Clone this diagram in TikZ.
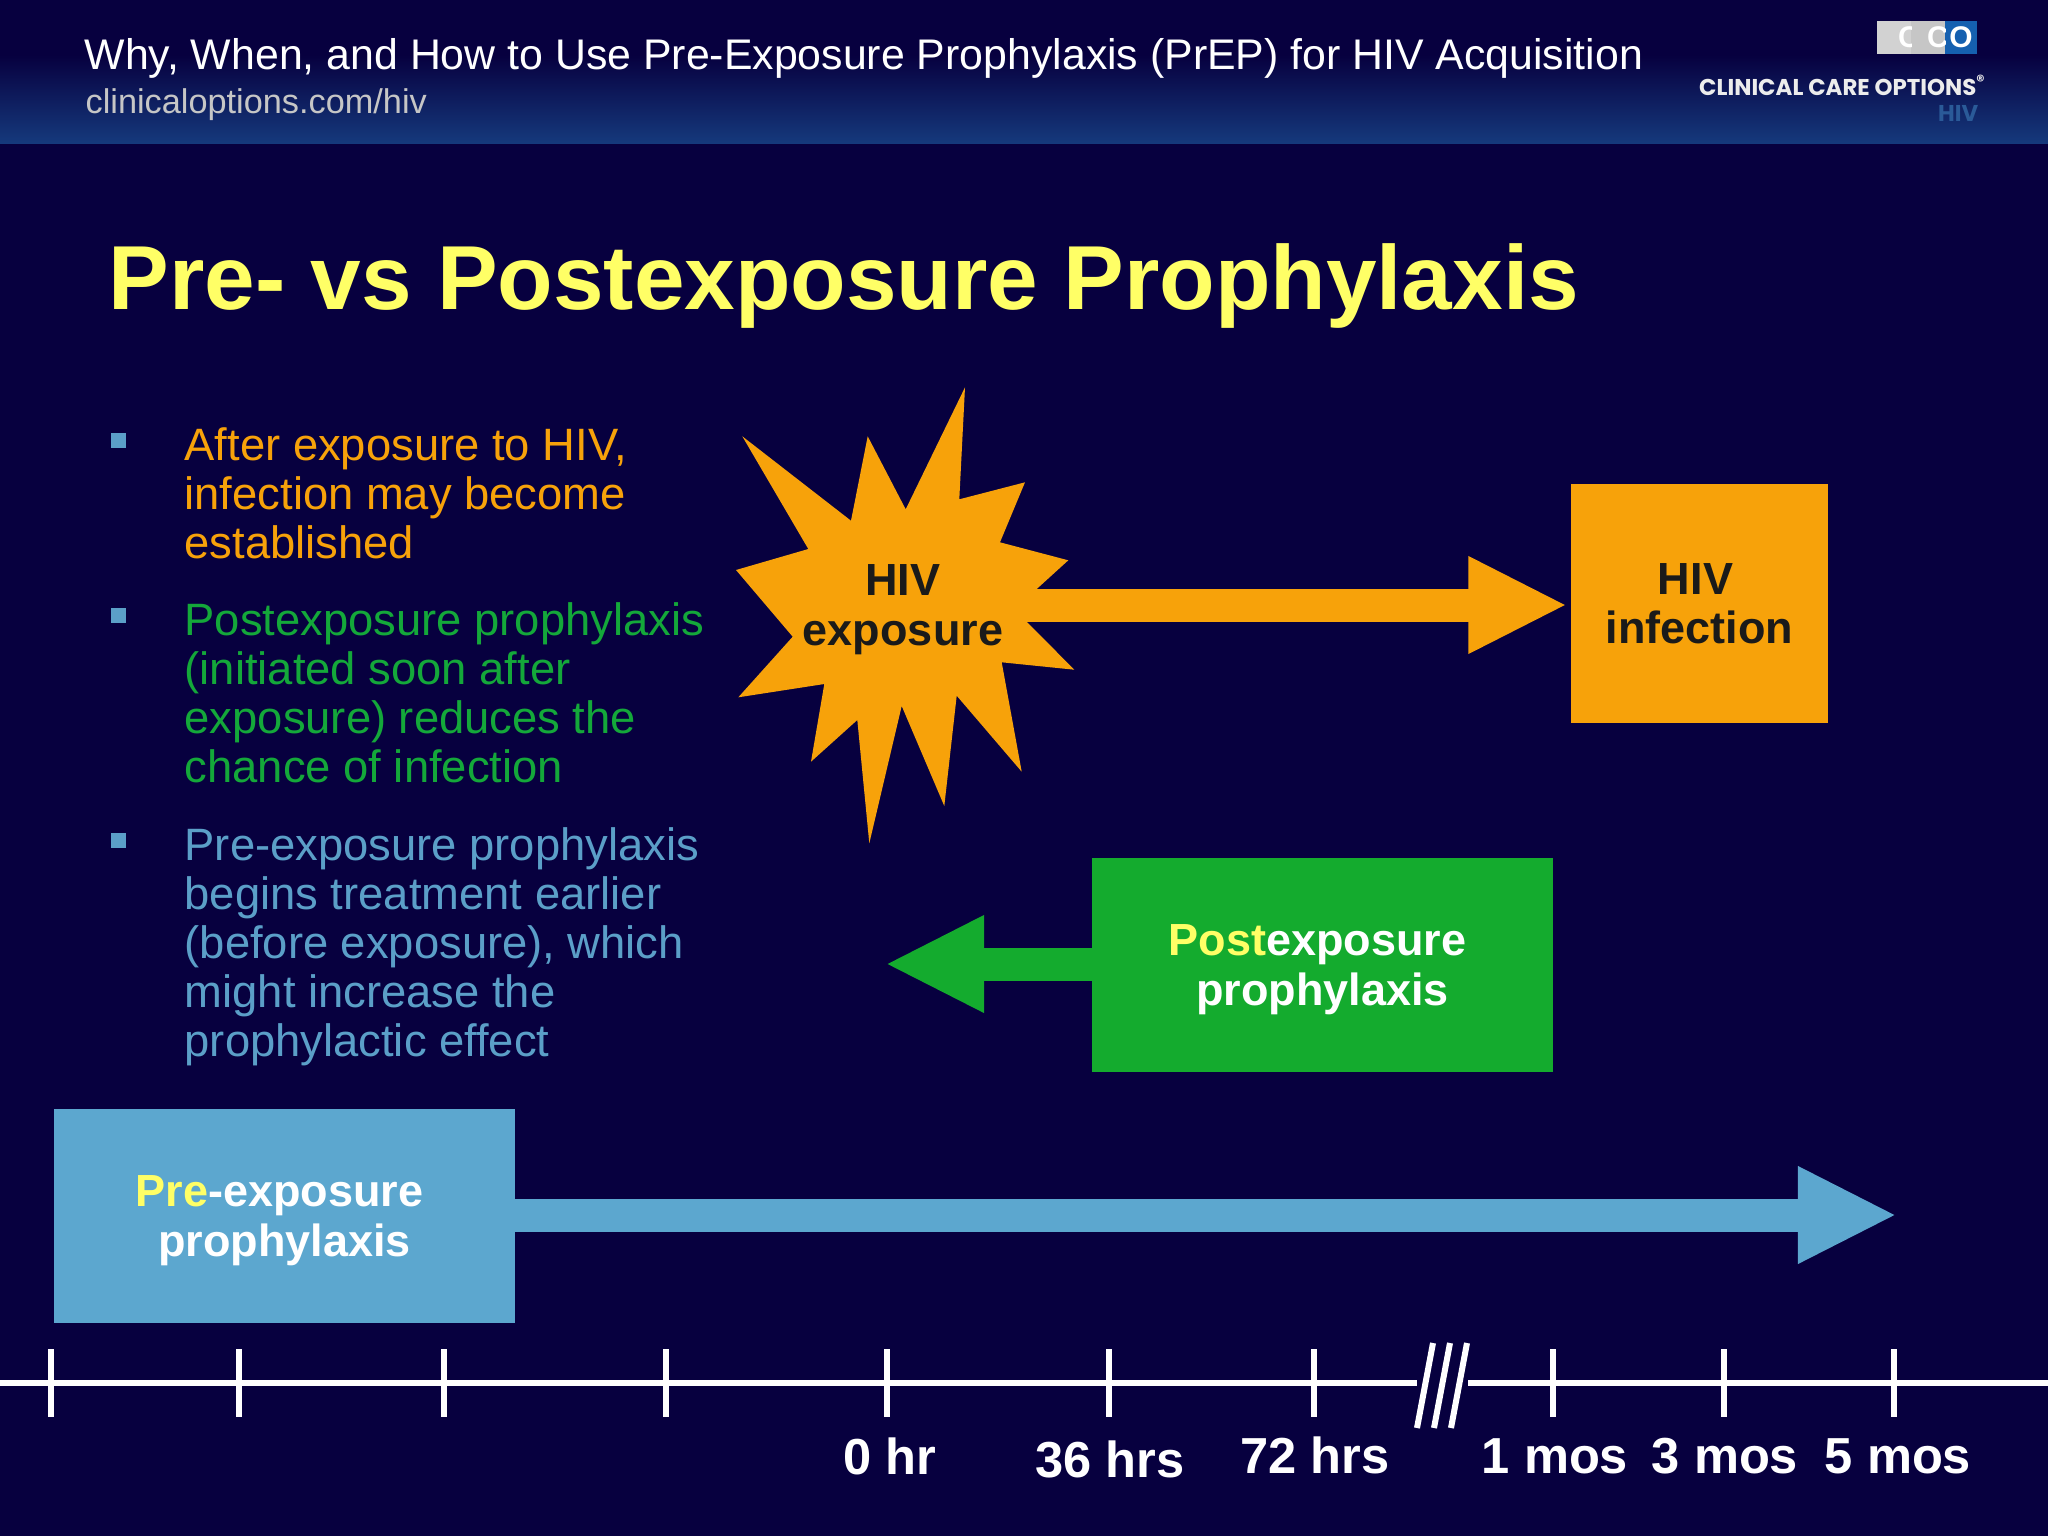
\documentclass[tikz,border=0pt]{standalone}
\usepackage{fontspec}
\setmainfont{Liberation Sans}
\newfontfamily\logofont{Poppins}
\usetikzlibrary{arrows.meta}
\definecolor{navy}{HTML}{07003F}
\definecolor{headblue}{HTML}{15397C}
\definecolor{cardorange}{HTML}{F7A20A}
\definecolor{cardgreen}{HTML}{14AB2E}
\definecolor{cardblue}{HTML}{5CA7CF}
\definecolor{titleyellow}{HTML}{FFFF66}
\definecolor{textgreen}{HTML}{14A83A}
\definecolor{textblue}{HTML}{5B9FC8}
\definecolor{inkdark}{HTML}{1A1A1A}
\definecolor{logoblue}{HTML}{1560B0}
\definecolor{logohivblue}{HTML}{2A5A98}
\begin{document}
\begin{tikzpicture}[x=0.01cm,y=-0.01cm,
	cardtext/.style={font=\fontsize{12.8pt}{14.1pt}\selectfont\bfseries,align=center,inner sep=0pt,text depth=0pt},
	card/.style={cardtext,minimum width=#1,outer sep=0pt},
	bodytext/.style={font=\fontsize{12.9pt}{13.95pt}\selectfont,align=left,anchor=north west,inner sep=0pt},
	blockarrow/.style={draw=#1,line width=0.33cm,-{Triangle[length=0.99cm,width=0.9cm]}},
	axisline/.style={white,line width=0.06cm},
	logotext/.style={white,inner sep=0pt,font=\fontsize{8.5pt}{9pt}\selectfont\bfseries},
	bullet/.style={fill=textblue,inner sep=0pt,minimum size=0.15cm}]
	\path[use as bounding box,fill=navy] (0,0) rectangle (2048,1536);
	\shade[top color=navy,bottom color=headblue] (0,55) rectangle (2048,143);
	\node[anchor=west,inner sep=0pt,white,font=\fontsize{12.18pt}{14pt}\selectfont] (headline) at (84,58) {Why, When, and How to Use Pre-Exposure Prophylaxis (PrEP) for HIV Acquisition};
	\node[anchor=west,inner sep=0pt,text=gray!45!white,font=\fontsize{9.75pt}{11pt}\selectfont] (headurl) at (85,105) {clinicaloptions.com/hiv};
	\fill[gray!35!white] (1877,21) rectangle (1911,54);
	\fill[gray!45!white] (1911,21) rectangle (1945,54);
	\fill[logoblue] (1945,21) rectangle (1977,54);
	\begin{scope}
		\clip (1877,21) rectangle (1911,54);
		\node[logotext] (logoa) at (1909,37.5) {C};
	\end{scope}
	\begin{scope}
		\clip (1911,21) rectangle (1945,54);
		\node[logotext] (logob) at (1938,37.5) {C};
	\end{scope}
	\node[logotext] (logoc) at (1961,37.5) {O};
	\node[anchor=east,inner sep=0pt,text=gray!15!white,font=\logofont\fontsize{6.5pt}{8pt}\selectfont\bfseries] (logoname) at (1987,85) {CLINICAL CARE OPTIONS\textsuperscript{®}};
	\node[anchor=east,inner sep=0pt,text=logohivblue,font=\logofont\fontsize{6.5pt}{8pt}\selectfont\bfseries] (logohiv) at (1979,113) {HIV};
	\node[anchor=west,inner sep=0pt,titleyellow,font=\fontsize{25.85pt}{28pt}\selectfont\bfseries] (title) at (108,286) {Pre- vs Postexposure Prophylaxis};
	\foreach \y in {432,607,832}{
		\node[bullet,anchor=north west] at (110,\y) {};
	}
	\node[bodytext,cardorange] (pointa) at (184,427) {After exposure to HIV,\\infection may become\\established};
	\node[bodytext,textgreen] (pointb) at (184,602) {Postexposure prophylaxis\\(initiated soon after\\exposure) reduces the\\chance of infection};
	\node[bodytext,textblue] (pointc) at (184,826.5) {Pre-exposure prophylaxis\\begins treatment earlier\\(before exposure), which\\might increase the\\prophylactic effect};
	\fill[cardorange] (965,387.3)--(959.3,499.3)--(1025,482.3)--(1000,542.3)--(1068.3,560.3)--(1036.7,589)--(1026.7,621.7)--(1074.3,669.7)--(1001.7,662.3)--(1021.7,771.7)--(956.7,695.7)--(944.3,806)--(901.7,706)--(869.3,843.3)--(857.3,720)--(811,761.7)--(824.3,684)--(738.3,697.3)--(792.7,636.7)--(736,570)--(808.3,549)--(742.3,436.3)--(851,520.7)--(867.7,436.3)--(905.7,509.3)--cycle;
	\node[cardtext,text=inkdark] (exposure) at (903,605) {HIV\\exposure};
	\node[card=2.56cm,minimum height=2.38cm,fill=cardorange,text=inkdark] (infection) at (1699.5,603.5) {HIV\kern0.08cm\\infection};
	\node[card=4.61cm,minimum height=2.14cm,fill=cardgreen,text=white] (postbox) at (1322.5,965) {\textcolor{titleyellow}{Post}exposure\kern0.1cm\\prophylaxis};
	\node[card=4.61cm,minimum height=2.14cm,fill=cardblue,text=white] (prebox) at (284.5,1216) {\textcolor{titleyellow}{Pre}-exposure\kern0.1cm\\prophylaxis};
	\coordinate (posttip) at (885,964);
	\coordinate (pretip) at (1897,1215);
	\draw[blockarrow=cardorange,shorten >=0.04cm] (exposure.east) -- (exposure.east -| infection.west);
	\draw[blockarrow=cardgreen] (postbox.west |- posttip) -- (posttip);
	\draw[blockarrow=cardblue] (prebox.east |- pretip) -- (pretip);
	\coordinate (axisleft) at (0,1383);
	\coordinate (breakleft) at (1417,1383);
	\coordinate (breakright) at (1468,1383);
	\coordinate (axisright) at (2048,1383);
	\draw[axisline] (axisleft) -- (breakleft) (breakright) -- (axisright);
	\foreach \x in {51,239,444,666,887,1109,1314,1553,1724,1894}{
		\draw[axisline] (\x,1349) -- (\x,1417);
	}
	\foreach \x in {0,17,34}{
		\draw[axisline] (1433+\x,1343) -- (1417+\x,1428);
	}
	\foreach \x/\y/\t in {890/1456/0 hr,1110/1459/36 hrs,1315/1455/72 hrs,1555/1456/1 mos,1725/1456/3 mos,1898/1456/5 mos}{
		\node[white,inner sep=0pt,font=\fontsize{14.4pt}{16pt}\selectfont\bfseries] at (\x,\y) {\t};
	}
\end{tikzpicture}
\end{document}
